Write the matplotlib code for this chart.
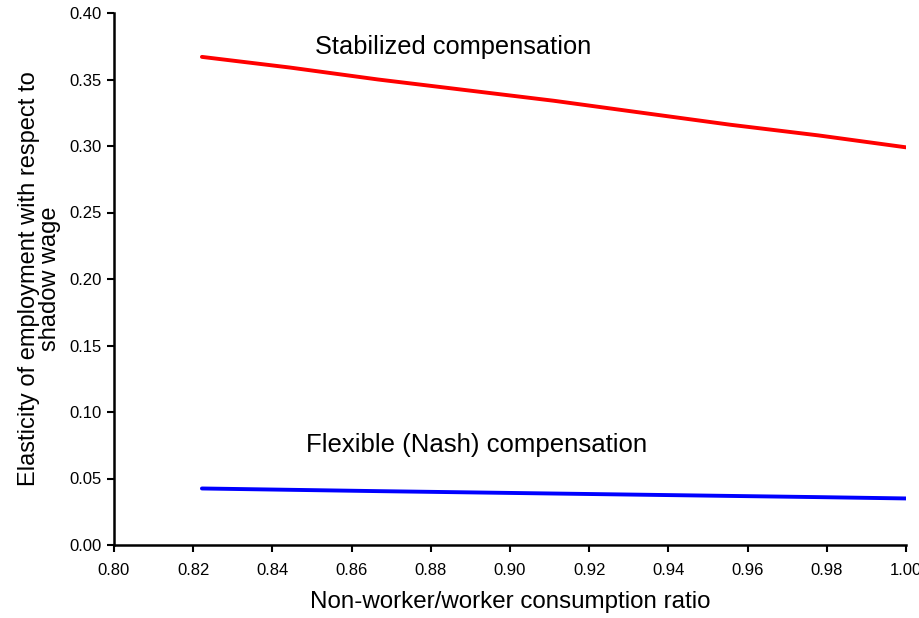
import matplotlib.pyplot as plt

plt.rcParams['font.family'] = ['Liberation Sans', 'DejaVu Sans']

# consumption ratio grid and the two elasticity series
ratio = [0.8222, 0.8444, 0.8667, 0.8889, 0.9111, 0.9333, 0.9556, 0.9778, 1.0]
stabilized = [0.367, 0.359, 0.350, 0.342, 0.334, 0.325, 0.316, 0.308, 0.299]
flexible = [0.0425, 0.0415, 0.0405, 0.0396, 0.0387, 0.0378, 0.0369, 0.0360, 0.0350]

xticks = [0.80, 0.82, 0.84, 0.86, 0.88, 0.90, 0.92, 0.94, 0.96, 0.98, 1.00]
yticks = [0.00, 0.05, 0.10, 0.15, 0.20, 0.25, 0.30, 0.35, 0.40]

fig = plt.figure(figsize=(9.19, 6.18), dpi=100)
ax = fig.add_axes([114 / 919, 1 - 545 / 618, 792 / 919, 532 / 618])

ax.plot(ratio, stabilized, color='#ff0000', lw=2.8, solid_capstyle='round')
ax.plot(ratio, flexible, color='#0000ff', lw=2.8, solid_capstyle='round')

ax.text(0.8508, 0.3744, 'Stabilized compensation', fontsize=18.3, va='center')
ax.text(0.8485, 0.0752, 'Flexible (Nash) compensation', fontsize=18.5, va='center')

ax.set_xlim(0.80, 1.00)
ax.set_ylim(0.00, 0.40)
ax.set_xticks(xticks)
ax.set_yticks(yticks)
ax.set_xticklabels([f'{v:.2f}' for v in xticks])
ax.set_yticklabels([f'{v:.2f}' for v in yticks])
ax.tick_params(direction='out', length=5, width=1.5, labelsize=12, pad=4)
ax.tick_params(axis='x', pad=8)

for side in ['top', 'right']:
    ax.spines[side].set_visible(False)
for side in ['left', 'bottom']:
    ax.spines[side].set_linewidth(1.8)

ax.set_xlabel('Non-worker/worker consumption ratio', fontsize=17.4, labelpad=9)
ax.set_ylabel('Elasticity of employment with respect to\nshadow wage', fontsize=17,
              labelpad=6, linespacing=0.95)

fig.savefig('out.png', dpi=100)
